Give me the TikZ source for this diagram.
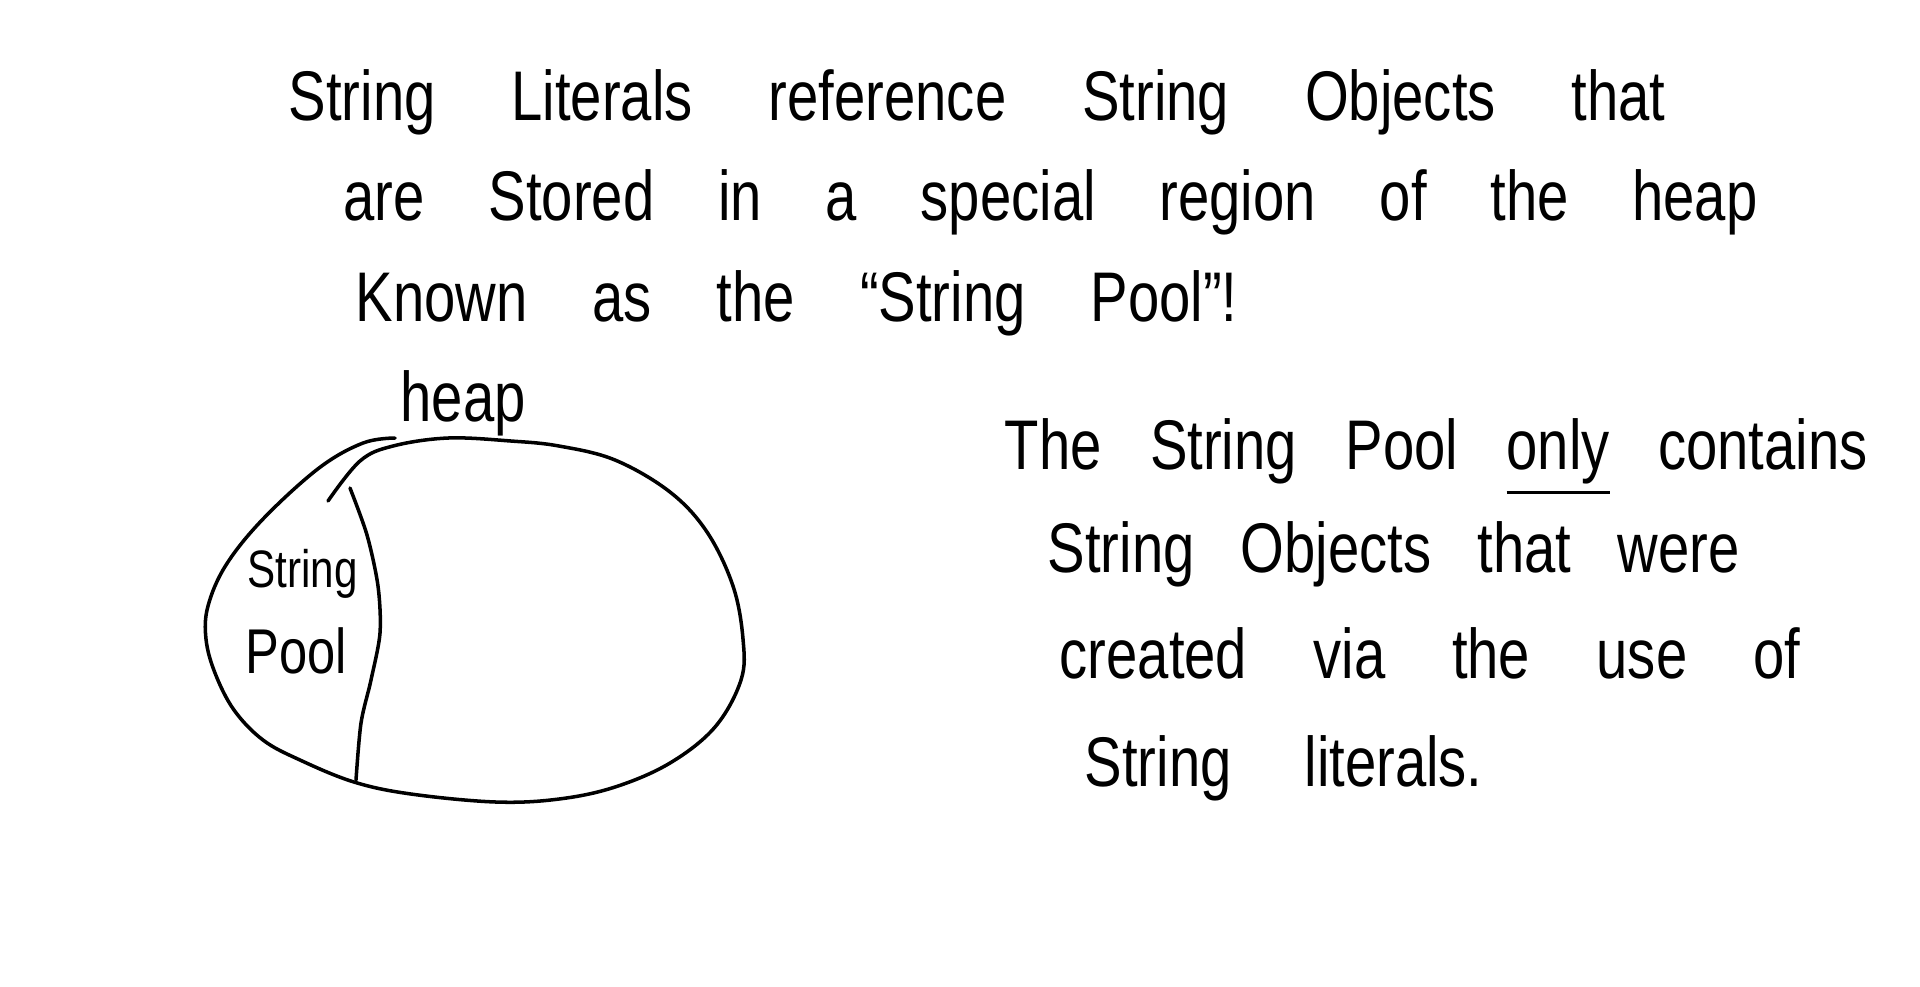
\documentclass[tikz,border=0pt]{standalone}
\usepackage{fontspec}
\setmainfont{Liberation Sans}[FakeStretch=0.8]
\usepackage{tikz}
\usetikzlibrary{positioning}
\definecolor{ink}{RGB}{0,0,0}
\tikzset{
  note/.style={font=\fontsize{20}{24}\selectfont,text=ink,inner sep=0pt,anchor=base west},
  small note/.style={note,font=\fontsize{#1}{#1}\selectfont},
  stroke/.style={draw=ink,line width=1pt,line cap=round,line join=round},
}
\newcommand{\spread}[2]{\makebox[#1][s]{#2}}
\newcommand{\stress}[1]{\vtop{\hbox{#1}\kern2pt\hrule height 1pt}}

\begin{document}
\begin{tikzpicture}
    \path[fill=white] (0,0) rectangle (19.2,-9.86);
    % top remark
    \node[note] (top1) at (2.88,-1.20) {\spread{13.77cm}{String Literals reference String Objects that}};
    \node[note] (top2) at (3.43,-2.20) {\spread{14.14cm}{are Stored in a special region of the heap}};
    \node[note] (top3) at (3.55,-3.21) {\spread{8.82cm}{Known as the ``String Pool''!}};
    % heap sketch
    \draw[stroke] plot[smooth,tension=0.6] coordinates {(3.28,-5.01) (3.60,-4.61) (3.93,-4.46) (4.48,-4.38) (5.11,-4.41)
      (5.59,-4.46) (6.15,-4.60) (6.70,-4.92) (7.07,-5.32) (7.33,-5.86) (7.43,-6.39) (7.41,-6.80) (7.15,-7.27)
      (6.70,-7.63) (6.15,-7.87) (5.59,-7.99) (4.96,-8.02) (4.11,-7.94) (3.54,-7.82) (3.00,-7.60) (2.63,-7.40)
      (2.34,-7.10) (2.15,-6.73) (2.06,-6.39) (2.08,-6.06) (2.26,-5.65) (2.63,-5.19) (3.19,-4.68) (3.63,-4.43) (3.95,-4.38)};
    \draw[stroke] plot[smooth] coordinates {(3.50,-4.88) (3.67,-5.35) (3.78,-5.86) (3.80,-6.33) (3.71,-6.80) (3.61,-7.23) (3.56,-7.80)};
    \node[note] (heap) at (4.00,-4.21) {heap};
    \node[small note=15] (pool1) at (2.47,-5.87) {String};
    \node[small note=18] (pool2) at (2.45,-6.73) {Pool};
    % right remark
    \node[note] (side1) at (10.04,-4.69) {\spread{8.63cm}{The String Pool \stress{only} contains}};
    \node[note] (side2) at (10.47,-5.72) {\spread{6.92cm}{String Objects that were}};
    \node[note] (side3) at (10.59,-6.78) {\spread{7.41cm}{created via the use of}};
    \node[note] (side4) at (10.84,-7.86) {\spread{3.98cm}{String literals.}};
\end{tikzpicture}
\end{document}
